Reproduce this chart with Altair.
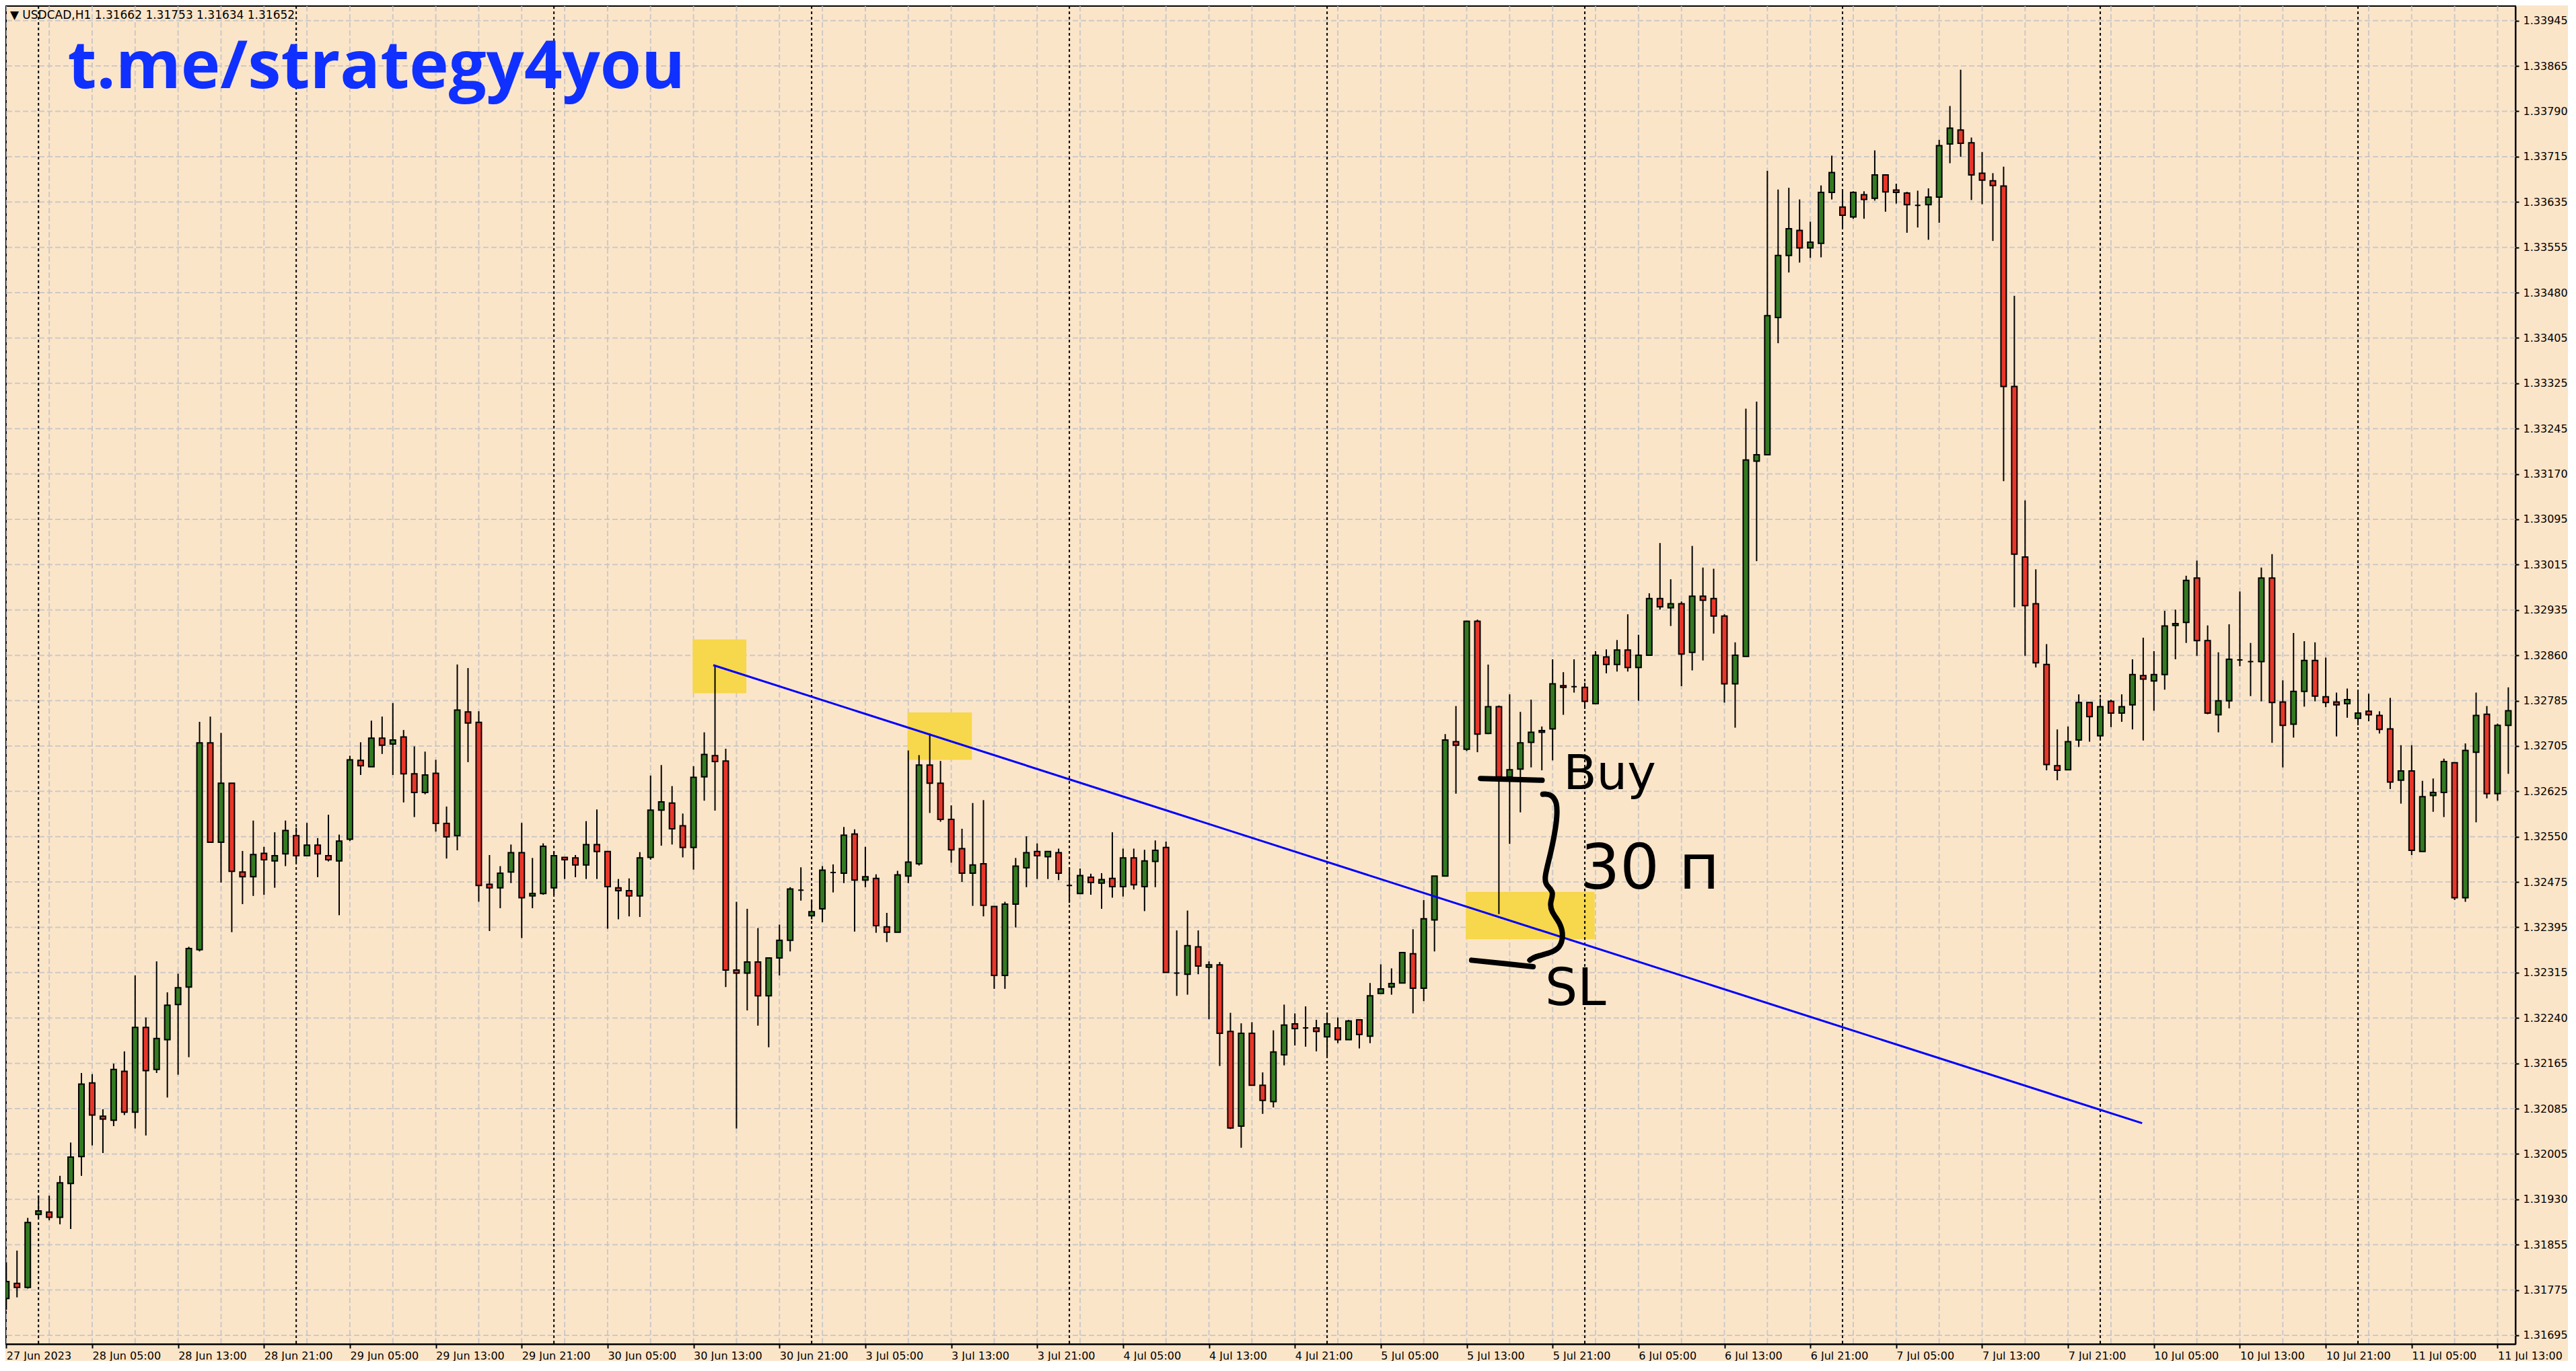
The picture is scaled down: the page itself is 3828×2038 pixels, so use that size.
import json
import altair as alt
import pandas as pd

# ---------------- data (USDCAD H1) ----------------
opens = [
    1.31758, 1.31784, 1.31777, 1.31902, 1.31906, 1.31897, 1.31955, 1.32001, 1.32127, 1.32070,
    1.32063, 1.32147, 1.32077, 1.32222, 1.32150, 1.32201, 1.32261, 1.32291, 1.32355, 1.32709,
    1.32539, 1.32640, 1.32488, 1.32480, 1.32520, 1.32507, 1.32519, 1.32550, 1.32516, 1.32534,
    1.32516, 1.32507, 1.32544, 1.32679, 1.32668, 1.32717, 1.32707, 1.32719, 1.32656, 1.32624,
    1.32657, 1.32571, 1.32550, 1.32762, 1.32744, 1.32467, 1.32461, 1.32488, 1.32521, 1.32447,
    1.32451, 1.32461, 1.32513, 1.32512, 1.32500, 1.32535, 1.32523, 1.32461, 1.32456, 1.32447,
    1.32513, 1.32594, 1.32606, 1.32567, 1.32530, 1.32651, 1.32687, 1.32678, 1.32320, 1.32315,
    1.32334, 1.32276, 1.32341, 1.32371, 1.32457, 1.32413, 1.32425, 1.32487, 1.32486, 1.32553,
    1.32474, 1.32477, 1.32394, 1.32385, 1.32481, 1.32502, 1.32671, 1.32640, 1.32578, 1.32528,
    1.32486, 1.32502, 1.32429, 1.32311, 1.32433, 1.32495, 1.32523, 1.32514, 1.32521, 1.32465,
    1.32451, 1.32479, 1.32469, 1.32477, 1.32463, 1.32512, 1.32463, 1.32506, 1.32530, 1.32315,
    1.32313, 1.32360, 1.32325, 1.32329, 1.32215, 1.32053, 1.32212, 1.32123, 1.32095, 1.32175,
    1.32228, 1.32221, 1.32221, 1.32206, 1.32221, 1.32201, 1.32235, 1.32207, 1.32280, 1.32291,
    1.32298, 1.32348, 1.32289, 1.32406, 1.32481, 1.32711, 1.32698, 1.32917, 1.32725, 1.32771,
    1.32651, 1.32664, 1.32710, 1.32727, 1.32733, 1.32807, 1.32805, 1.32804, 1.32776, 1.32856,
    1.32843, 1.32868, 1.32838, 1.32859, 1.32956, 1.32940, 1.32947, 1.32864, 1.32960, 1.32956,
    1.32926, 1.32810, 1.32857, 1.33191, 1.33202, 1.33437, 1.33543, 1.33586, 1.33556, 1.33564,
    1.33651, 1.33626, 1.33609, 1.33647, 1.33641, 1.33681, 1.33655, 1.33650, 1.33629, 1.33630,
    1.33643, 1.33734, 1.33758, 1.33736, 1.33684, 1.33671, 1.33662, 1.33319, 1.33027, 1.32947,
    1.32843, 1.32670, 1.32663, 1.32714, 1.32778, 1.32721, 1.32780, 1.32760, 1.32774, 1.32824,
    1.32815, 1.32826, 1.32910, 1.32915, 1.32991, 1.32884, 1.32757, 1.32781, 1.32851, 1.32848,
    1.32848, 1.32991, 1.32779, 1.32741, 1.32797, 1.32850, 1.32788, 1.32779, 1.32776, 1.32751,
    1.32763, 1.32756, 1.32733, 1.32645, 1.32661, 1.32523, 1.32619, 1.32624, 1.32675, 1.32444,
    1.32693, 1.32758, 1.32622, 1.32739,
]
highs = [
    1.31820, 1.31840, 1.31896, 1.31934, 1.31934, 1.31968, 1.32025, 1.32144, 1.32142, 1.32082,
    1.32160, 1.32181, 1.32311, 1.32239, 1.32335, 1.32282, 1.32314, 1.32360, 1.32745, 1.32754,
    1.32726, 1.32640, 1.32524, 1.32576, 1.32531, 1.32556, 1.32576, 1.32564, 1.32572, 1.32546,
    1.32586, 1.32552, 1.32687, 1.32710, 1.32747, 1.32754, 1.32777, 1.32731, 1.32703, 1.32694,
    1.32680, 1.32600, 1.32843, 1.32837, 1.32763, 1.32517, 1.32498, 1.32535, 1.32572, 1.32512,
    1.32537, 1.32523, 1.32513, 1.32517, 1.32575, 1.32595, 1.32523, 1.32476, 1.32477, 1.32522,
    1.32653, 1.32671, 1.32635, 1.32588, 1.32669, 1.32727, 1.32841, 1.32699, 1.32437, 1.32425,
    1.32392, 1.32341, 1.32398, 1.32462, 1.32496, 1.32440, 1.32498, 1.32501, 1.32565, 1.32561,
    1.32531, 1.32484, 1.32418, 1.32490, 1.32696, 1.32688, 1.32725, 1.32678, 1.32602, 1.32562,
    1.32606, 1.32611, 1.32429, 1.32437, 1.32512, 1.32549, 1.32537, 1.32523, 1.32528, 1.32496,
    1.32494, 1.32485, 1.32486, 1.32556, 1.32528, 1.32528, 1.32526, 1.32542, 1.32540, 1.32388,
    1.32422, 1.32388, 1.32335, 1.32334, 1.32247, 1.32229, 1.32231, 1.32145, 1.32217, 1.32261,
    1.32246, 1.32258, 1.32235, 1.32247, 1.32239, 1.32235, 1.32235, 1.32298, 1.32330, 1.32323,
    1.32350, 1.32390, 1.32440, 1.32481, 1.32724, 1.32772, 1.32917, 1.32920, 1.32843, 1.32773,
    1.32792, 1.32762, 1.32783, 1.32737, 1.32852, 1.32830, 1.32852, 1.32812, 1.32866, 1.32869,
    1.32885, 1.32929, 1.32894, 1.32965, 1.33051, 1.32989, 1.32951, 1.33046, 1.33009, 1.33007,
    1.32929, 1.32881, 1.33281, 1.33293, 1.33688, 1.33656, 1.33659, 1.33639, 1.33601, 1.33663,
    1.33714, 1.33655, 1.33653, 1.33653, 1.33723, 1.33681, 1.33666, 1.33652, 1.33654, 1.33658,
    1.33741, 1.33799, 1.33861, 1.33745, 1.33720, 1.33684, 1.33695, 1.33474, 1.33124, 1.33006,
    1.32878, 1.32732, 1.32737, 1.32792, 1.32778, 1.32785, 1.32783, 1.32792, 1.32852, 1.32889,
    1.32866, 1.32935, 1.32937, 1.32995, 1.33021, 1.32910, 1.32864, 1.32912, 1.32968, 1.32880,
    1.33009, 1.33032, 1.32816, 1.32897, 1.32883, 1.32881, 1.32855, 1.32795, 1.32802, 1.32799,
    1.32793, 1.32763, 1.32786, 1.32705, 1.32705, 1.32644, 1.32648, 1.32682, 1.32675, 1.32708,
    1.32795, 1.32772, 1.32742, 1.32804,
]
lows = [
    1.31739, 1.31760, 1.31775, 1.31896, 1.31892, 1.31885, 1.31877, 1.31968, 1.32020, 1.32007,
    1.32053, 1.32072, 1.32049, 1.32037, 1.32144, 1.32102, 1.32141, 1.32171, 1.32352, 1.32539,
    1.32470, 1.32385, 1.32433, 1.32447, 1.32449, 1.32461, 1.32498, 1.32505, 1.32515, 1.32479,
    1.32506, 1.32414, 1.32541, 1.32654, 1.32668, 1.32690, 1.32654, 1.32607, 1.32582, 1.32621,
    1.32557, 1.32511, 1.32525, 1.32676, 1.32437, 1.32387, 1.32426, 1.32469, 1.32375, 1.32426,
    1.32449, 1.32449, 1.32476, 1.32479, 1.32476, 1.32476, 1.32391, 1.32407, 1.32412, 1.32411,
    1.32509, 1.32533, 1.32535, 1.32513, 1.32492, 1.32610, 1.32593, 1.32291, 1.32049, 1.32251,
    1.32225, 1.32188, 1.32311, 1.32352, 1.32439, 1.32407, 1.32402, 1.32453, 1.32469, 1.32386,
    1.32462, 1.32384, 1.32368, 1.32385, 1.32469, 1.32499, 1.32589, 1.32574, 1.32504, 1.32471,
    1.32430, 1.32412, 1.32288, 1.32288, 1.32393, 1.32462, 1.32476, 1.32476, 1.32474, 1.32435,
    1.32451, 1.32449, 1.32425, 1.32444, 1.32446, 1.32458, 1.32421, 1.32462, 1.32316, 1.32276,
    1.32278, 1.32313, 1.32236, 1.32156, 1.32048, 1.32016, 1.32123, 1.32074, 1.32085, 1.32157,
    1.32191, 1.32189, 1.32181, 1.32173, 1.32195, 1.32201, 1.32186, 1.32195, 1.32280, 1.32278,
    1.32298, 1.32246, 1.32267, 1.32352, 1.32481, 1.32622, 1.32695, 1.32693, 1.32724, 1.32416,
    1.32536, 1.32590, 1.32667, 1.32662, 1.32679, 1.32757, 1.32795, 1.32767, 1.32776, 1.32828,
    1.32831, 1.32831, 1.32781, 1.32859, 1.32937, 1.32909, 1.32806, 1.32833, 1.32850, 1.32896,
    1.32778, 1.32735, 1.32857, 1.33020, 1.33202, 1.33393, 1.33514, 1.33531, 1.33539, 1.33540,
    1.33639, 1.33590, 1.33606, 1.33606, 1.33637, 1.33618, 1.33632, 1.33582, 1.33591, 1.33570,
    1.33599, 1.33701, 1.33712, 1.33638, 1.33631, 1.33568, 1.33157, 1.32941, 1.32858, 1.32838,
    1.32662, 1.32645, 1.32662, 1.32702, 1.32711, 1.32713, 1.32736, 1.32745, 1.32732, 1.32713,
    1.32764, 1.32800, 1.32852, 1.32880, 1.32858, 1.32758, 1.32727, 1.32768, 1.32840, 1.32789,
    1.32780, 1.32709, 1.32667, 1.32718, 1.32771, 1.32780, 1.32770, 1.32720, 1.32752, 1.32739,
    1.32746, 1.32725, 1.32630, 1.32605, 1.32517, 1.32523, 1.32591, 1.32582, 1.32440, 1.32437,
    1.32573, 1.32614, 1.32610, 1.32656,
]
closes = [
    1.31787, 1.31777, 1.31888, 1.31908, 1.31897, 1.31956, 1.32000, 1.32125, 1.32072, 1.32065,
    1.32150, 1.32077, 1.32222, 1.32148, 1.32203, 1.32260, 1.32290, 1.32357, 1.32709, 1.32539,
    1.32640, 1.32489, 1.32480, 1.32518, 1.32509, 1.32516, 1.32559, 1.32516, 1.32534, 1.32519,
    1.32509, 1.32541, 1.32680, 1.32670, 1.32717, 1.32705, 1.32714, 1.32656, 1.32624, 1.32654,
    1.32571, 1.32548, 1.32765, 1.32743, 1.32465, 1.32461, 1.32486, 1.32521, 1.32444, 1.32451,
    1.32532, 1.32516, 1.32509, 1.32500, 1.32535, 1.32523, 1.32463, 1.32456, 1.32447, 1.32512,
    1.32594, 1.32608, 1.32562, 1.32530, 1.32650, 1.32689, 1.32677, 1.32320, 1.32315, 1.32334,
    1.32276, 1.32341, 1.32371, 1.32459, 1.32457, 1.32420, 1.32491, 1.32487, 1.32551, 1.32474,
    1.32480, 1.32396, 1.32385, 1.32483, 1.32505, 1.32671, 1.32640, 1.32578, 1.32526, 1.32486,
    1.32500, 1.32431, 1.32311, 1.32433, 1.32498, 1.32521, 1.32516, 1.32523, 1.32486, 1.32465,
    1.32482, 1.32470, 1.32475, 1.32463, 1.32512, 1.32466, 1.32507, 1.32525, 1.32316, 1.32315,
    1.32362, 1.32327, 1.32329, 1.32212, 1.32050, 1.32212, 1.32123, 1.32097, 1.32180, 1.32226,
    1.32220, 1.32221, 1.32215, 1.32228, 1.32201, 1.32233, 1.32210, 1.32276, 1.32288, 1.32297,
    1.32350, 1.32289, 1.32408, 1.32481, 1.32714, 1.32705, 1.32917, 1.32724, 1.32771, 1.32651,
    1.32663, 1.32709, 1.32727, 1.32730, 1.32810, 1.32804, 1.32805, 1.32780, 1.32859, 1.32843,
    1.32868, 1.32838, 1.32859, 1.32956, 1.32942, 1.32947, 1.32861, 1.32960, 1.32953, 1.32926,
    1.32810, 1.32859, 1.33193, 1.33202, 1.33440, 1.33543, 1.33589, 1.33556, 1.33566, 1.33651,
    1.33685, 1.33612, 1.33651, 1.33639, 1.33681, 1.33652, 1.33651, 1.33630, 1.33629, 1.33643,
    1.33731, 1.33761, 1.33735, 1.33681, 1.33672, 1.33663, 1.33319, 1.33032, 1.32944, 1.32846,
    1.32672, 1.32662, 1.32711, 1.32778, 1.32754, 1.32771, 1.32760, 1.32771, 1.32826, 1.32818,
    1.32826, 1.32909, 1.32913, 1.32987, 1.32884, 1.32760, 1.32781, 1.32852, 1.32851, 1.32848,
    1.32991, 1.32778, 1.32739, 1.32797, 1.32850, 1.32789, 1.32778, 1.32774, 1.32783, 1.32760,
    1.32757, 1.32732, 1.32642, 1.32661, 1.32525, 1.32617, 1.32624, 1.32677, 1.32444, 1.32696,
    1.32756, 1.32622, 1.32739, 1.32764,
]

x_tick_labels = [
    "27 Jun 2023", "28 Jun 05:00", "28 Jun 13:00", "28 Jun 21:00", "29 Jun 05:00",
    "29 Jun 13:00", "29 Jun 21:00", "30 Jun 05:00", "30 Jun 13:00", "30 Jun 21:00",
    "3 Jul 05:00", "3 Jul 13:00", "3 Jul 21:00", "4 Jul 05:00", "4 Jul 13:00",
    "4 Jul 21:00", "5 Jul 05:00", "5 Jul 13:00", "5 Jul 21:00", "6 Jul 05:00",
    "6 Jul 13:00", "6 Jul 21:00", "7 Jul 05:00", "7 Jul 13:00", "7 Jul 21:00",
    "10 Jul 05:00", "10 Jul 13:00", "10 Jul 21:00", "11 Jul 05:00", "11 Jul 13:00",
]
y_tick_labels = [
    "1.33945", "1.33865", "1.33790", "1.33715", "1.33635", "1.33555", "1.33480", "1.33405",
    "1.33325", "1.33245", "1.33170", "1.33095", "1.33015", "1.32935", "1.32860", "1.32785",
    "1.32705", "1.32625", "1.32550", "1.32475", "1.32395", "1.32315", "1.32240", "1.32165",
    "1.32085", "1.32005", "1.31930", "1.31855", "1.31775", "1.31695",
]
day_starts = [3, 27, 51, 75, 99, 123, 147, 171, 195, 219]

# highlighted zones (bar index range, price range)
zone_x1 = [63.92, 83.92, 135.92]
zone_x2 = [68.92, 89.92, 147.92]
zone_lo = [1.32794, 1.32680, 1.32373]
zone_hi = [1.32886, 1.32761, 1.32454]

# trend line
trend_x = [65.84, 198.9]
trend_y = [1.32842, 1.32058]

# hand drawn marks
stroke_id = ["buy", "buy", "sl", "sl", "sl"]
stroke_x = [137.29, 143.02, 136.46, 139.59, 142.19]
stroke_y = [1.32648, 1.32645, 1.32337, 1.32331, 1.32326]
brace_x = [143.09, 143.75, 144.48, 144.38, 143.86, 143.23, 143.34, 144.17, 143.75, 143.86,
           144.79, 145.0, 144.69, 143.75, 142.29, 141.88]
brace_y = [1.32621, 1.32622, 1.32609, 1.32571, 1.32522, 1.32479, 1.32466, 1.32454, 1.32436,
           1.32420, 1.32399, 1.32377, 1.32358, 1.32349, 1.32343, 1.32337]
note_text = ["Buy", "30 п", "SL"]
note_x = [145.0, 146.6, 143.3]
note_y = [1.32630, 1.32459, 1.32260]
note_size = [72, 92, 76]

header_text = ["▼ USDCAD,H1  1.31662 1.31753 1.31634 1.31652"]
watermark_text = ["t.me/strategy4you"]

# ---------------- build ----------------
BG = "#FBE5C9"
GREEN = "#337A22"
RED = "#E8372A"

n = len(opens)
df = pd.DataFrame({"idx": list(range(n)), "open": opens, "high": highs, "low": lows, "close": closes})
df["top"] = df[["open", "close"]].max(axis=1)
df["bot"] = df[["open", "close"]].min(axis=1)
df["dir"] = ["up" if c > o else ("down" if c < o else "flat") for o, c in zip(opens, closes)]

top_label = float(y_tick_labels[0])
step = (float(y_tick_labels[0]) - float(y_tick_labels[-1])) / (len(y_tick_labels) - 1)
grid_prices = [round(top_label - i * step, 7) for i in range(len(y_tick_labels))]
x_tick_vals = [8 * i for i in range(len(x_tick_labels))]
vgrid_vals = list(range(0, n, 4))

xs = alt.Scale(domain=[0.294, 233.35], nice=False, zero=False)
ys = alt.Scale(domain=[1.31680, 1.33970], nice=False, zero=False)

x_label_expr = json.dumps(x_tick_labels, ensure_ascii=False) + "[round(datum.value / 8)]"
y_label_expr = json.dumps(y_tick_labels) + f"[round(({top_label} - datum.value) / {step})]"

x_axis = alt.Axis(
    values=x_tick_vals, labelExpr=x_label_expr, title=None, grid=False,
    labelAlign="left", labelBaseline="top", labelFont="DejaVu Sans", labelFontSize=16,
    labelColor="black", labelPadding=3, labelOverlap=False, labelFlush=False, labelBound=False,
    tickColor="black", tickSize=6, tickWidth=2, domainColor="black", domainWidth=2,
)
y_axis = alt.Axis(
    orient="right", values=grid_prices, labelExpr=y_label_expr, title=None, grid=False,
    labelFont="DejaVu Sans", labelFontSize=16, labelColor="black", labelPadding=6,
    labelOverlap=False, labelFlush=False, labelBaseline="middle",
    tickColor="black", tickSize=5, tickWidth=2, domainColor="black", domainWidth=2,
)


def X(field):
    return alt.X(field, scale=xs, axis=x_axis, title=None)


def Y(field):
    return alt.Y(field, scale=ys, axis=y_axis, title=None)


zones = alt.Chart(pd.DataFrame({"x1": zone_x1, "x2": zone_x2, "lo": zone_lo, "hi": zone_hi})).mark_rect(
    color="#F7D74B", clip=True
).encode(x=X("x1:Q"), x2="x2:Q", y=Y("lo:Q"), y2="hi:Q")

hgrid = alt.Chart(pd.DataFrame({"p": grid_prices})).mark_rule(
    color="#C4C4C4", strokeWidth=2, strokeDash=[8, 4], opacity=0.85
).encode(y=Y("p:Q"))

vgrid = alt.Chart(pd.DataFrame({"v": vgrid_vals})).mark_rule(
    color="#C4C4C4", strokeWidth=2, strokeDash=[8, 4], opacity=0.85, clip=True
).encode(x=X("v:Q"))

seps = alt.Chart(pd.DataFrame({"d": day_starts})).mark_rule(
    color="black", strokeWidth=2, strokeDash=[4, 4]
).encode(x=X("d:Q"))

wicks = alt.Chart(df).mark_rule(color="black", strokeWidth=2, clip=True).encode(
    x=X("idx:Q"), y=Y("low:Q"), y2="high:Q",
)
bodies = alt.Chart(df).mark_bar(size=8, stroke="black", strokeWidth=2, clip=True).encode(
    x=X("idx:Q"), y=Y("bot:Q"), y2="top:Q",
    color=alt.Color("dir:N", scale=alt.Scale(domain=["up", "down", "flat"], range=[GREEN, RED, "black"]),
                    legend=None),
)

trend = alt.Chart(pd.DataFrame({"x": trend_x, "y": trend_y})).mark_line(
    color="#0000FF", strokeWidth=3
).encode(x=X("x:Q"), y=Y("y:Q"))

strokes = alt.Chart(pd.DataFrame({"id": stroke_id, "x": stroke_x, "y": stroke_y,
                                  "o": list(range(len(stroke_x)))})).mark_line(
    color="black", strokeWidth=8, strokeCap="round", strokeJoin="round"
).encode(x=X("x:Q"), y=Y("y:Q"), detail="id:N", order="o:Q")

brace = alt.Chart(pd.DataFrame({"x": brace_x, "y": brace_y, "o": list(range(len(brace_x)))})).mark_line(
    color="black", strokeWidth=8, strokeCap="round", strokeJoin="round", interpolate="basis"
).encode(x=X("x:Q"), y=Y("y:Q"), order="o:Q")

notes = alt.Chart(pd.DataFrame({"t": note_text, "x": note_x, "y": note_y, "s": note_size})).mark_text(
    align="left", baseline="alphabetic", font="DejaVu Sans", fontWeight="normal", color="black"
).encode(x=X("x:Q"), y=Y("y:Q"), text="t:N", size=alt.Size("s:Q", scale=None, legend=None))

header = alt.Chart(pd.DataFrame({"t": header_text, "x": [0.35], "y": [1.33948]})).mark_text(
    align="left", baseline="alphabetic", font="DejaVu Sans", fontSize=17, color="black"
).encode(x=X("x:Q"), y=Y("y:Q"), text="t:N")

watermark = alt.Chart(pd.DataFrame({"t": watermark_text, "x": [5.71], "y": [1.33829]})).mark_text(
    align="left", baseline="alphabetic", font="Open Sans", fontWeight="bold", fontSize=99, color="#1030FF"
).encode(x=X("x:Q"), y=Y("y:Q"), text="t:N")

chart = alt.layer(
    hgrid, vgrid, zones, seps, wicks, bodies, trend, strokes, brace, notes, header, watermark
).properties(
    width=3729, height=1989, padding=0, background=BG
).configure_view(
    stroke="black", strokeWidth=2, fill=BG
)

chart.save("out.html", embed_options={"renderer": "svg", "actions": False})
